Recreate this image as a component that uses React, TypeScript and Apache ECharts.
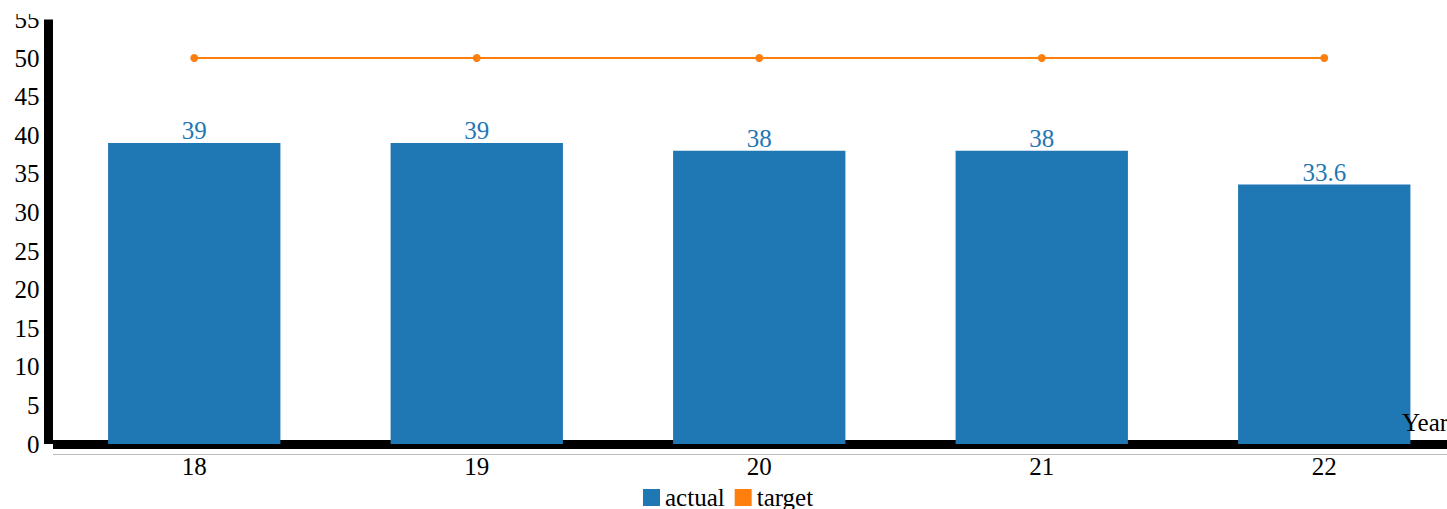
import React, { useEffect, useRef } from "react";
import * as echarts from "echarts";

const categories = ["18", "19", "20", "21", "22"];
const actualValues = [39, 39, 38, 38, 33.6];
const targetValues = [50, 50, 50, 50, 50];
const FONT = "'Liberation Serif', 'Times New Roman', serif";
const FS = 25;

export default function App() {
  const ref = useRef<HTMLDivElement>(null);
  useEffect(() => {
    if (!ref.current) return;
    const chart = echarts.init(ref.current, null, { renderer: "svg" });
    chart.setOption({
      animation: false,
      textStyle: { fontFamily: FONT },
      grid: {
        left: 53,
        width: 1412.5,
        top: 19.4,
        height: 424.6,
        containLabel: false,
        outerBoundsMode: "none",
      },
      legend: {
        data: ["actual", "target"],
        left: 643,
        top: 485,
        padding: 0,
        icon: "rect",
        itemWidth: 17,
        itemHeight: 17,
        itemGap: 10,
        textStyle: { fontSize: FS, color: "#000", fontFamily: FONT },
      },
      xAxis: {
        type: "category",
        data: categories,
        offset: 5,
        axisLine: { show: true, lineStyle: { color: "#000", width: 9, cap: "butt" } },
        axisTick: { show: false },
        axisLabel: { fontSize: FS, color: "#000", margin: 5, fontFamily: FONT },
      },
      yAxis: {
        type: "value",
        min: 0,
        max: 55,
        interval: 5,
        offset: 4.5,
        axisLine: { show: true, lineStyle: { color: "#000", width: 9, cap: "butt" } },
        axisTick: { show: false },
        splitLine: { show: false },
        axisLabel: { fontSize: FS, color: "#000", margin: 9, fontFamily: FONT },
      },
      series: [
        {
          name: "actual",
          type: "bar",
          data: actualValues,
          barCategoryGap: "39%",
          itemStyle: { color: "#1f77b4" },
          label: {
            show: true,
            position: "top",
            distance: 0,
            color: "#1f77b4",
            fontSize: FS,
            fontFamily: FONT,
          },
        },
        {
          name: "target",
          type: "line",
          data: targetValues,
          symbol: "circle",
          symbolSize: 8,
          itemStyle: { color: "#ff7f0e" },
          lineStyle: { color: "#ff7f0e", width: 2 },
        },
      ],
      graphic: [
        {
          type: "text",
          left: 1402,
          top: 410,
          z: 100,
          style: { text: "Year", fontSize: FS, fill: "#000", fontFamily: FONT },
        },
        {
          type: "line",
          z: 100,
          shape: { x1: 53, y1: 454.5, x2: 1447, y2: 454.5 },
          style: { stroke: "#bbb", lineWidth: 1 },
        },
        {
          type: "rect",
          z: 200,
          shape: { x: 0, y: 0, width: 43, height: 14 },
          style: { fill: "#fff" },
        },
      ],
    });
    return () => chart.dispose();
  }, []);
  return (
    <div
      ref={ref}
      style={{ position: "absolute", left: 0, top: 0, width: 1447, height: 509 }}
    />
  );
}
